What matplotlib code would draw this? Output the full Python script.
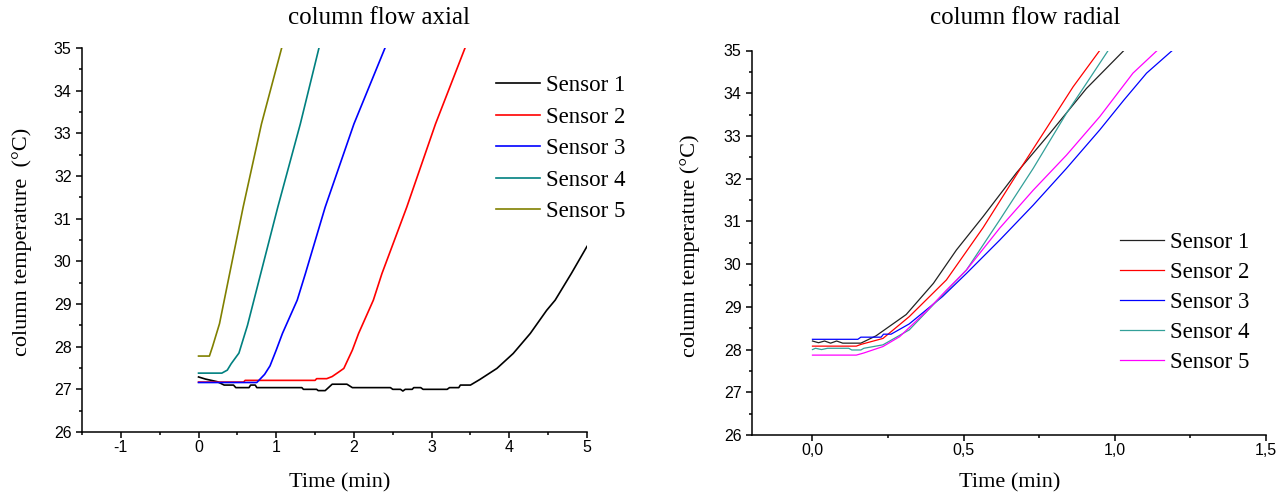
import matplotlib
matplotlib.use("Agg")
import matplotlib.pyplot as plt
from matplotlib.ticker import MultipleLocator, FuncFormatter

plt.rcParams["axes.unicode_minus"] = False

# column flow axial (left panel)
axial_t1 = [0, 0.09, 0.24, 0.33, 0.45, 0.48, 0.65, 0.67, 0.73, 0.75, 1.33, 1.35, 1.52,
            1.54, 1.63, 1.66, 1.72, 1.91, 1.98, 2.47, 2.5, 2.6, 2.63, 2.66, 2.68, 2.75,
            2.77, 2.86, 2.89, 3.2, 3.23, 3.35, 3.37, 3.5, 3.62, 3.84, 4.05, 4.27, 4.48,
            4.59, 4.8, 5.0]
axial_s1 = [27.29, 27.24, 27.18, 27.1, 27.1, 27.04, 27.04, 27.1, 27.1, 27.04, 27.04, 27.0, 27.0,
            26.97, 26.97, 27.02, 27.12, 27.12, 27.04, 27.04, 27.0, 27.0, 26.96, 27.0, 27.0, 27.0,
            27.04, 27.04, 27.0, 27.0, 27.04, 27.04, 27.1, 27.1, 27.23, 27.49, 27.84, 28.31, 28.85,
            29.09, 29.72, 30.35]

axial_t2 = [0, 0.58, 0.6, 1.5, 1.52, 1.65, 1.72, 1.8, 1.87, 1.98, 2.06, 2.25, 2.36, 2.68, 3.05, 3.43]
axial_s2 = [27.17, 27.17, 27.21, 27.21, 27.25, 27.25, 27.3, 27.4, 27.49, 27.92, 28.31, 29.09,
            29.71, 31.27, 33.22, 35.0]

axial_t3 = [0, 0.75, 0.85, 0.92, 1.0, 1.08, 1.27, 1.375, 1.63, 2.0, 2.4]
axial_s3 = [27.16, 27.16, 27.35, 27.55, 27.92, 28.31, 29.09, 29.71, 31.27, 33.22, 35.0]

axial_t4 = [0, 0.3, 0.37, 0.42, 0.52, 0.63, 0.8, 1.02, 1.31, 1.55]
axial_s4 = [27.38, 27.38, 27.45, 27.6, 27.85, 28.5, 29.71, 31.27, 33.22, 35.0]

axial_t5 = [0, 0.14, 0.18, 0.27, 0.4, 0.574, 0.81, 1.07]
axial_s5 = [27.78, 27.78, 28.0, 28.54, 29.71, 31.27, 33.22, 35.0]

# column flow radial (right panel)
radial_t1 = [0, 0.02, 0.04, 0.06, 0.08, 0.1, 0.16, 0.21, 0.31, 0.4, 0.476, 0.564, 0.674,
             0.785, 0.906, 1.03]
radial_s1 = [28.2, 28.16, 28.2, 28.15, 28.2, 28.15, 28.15, 28.32, 28.82, 29.55, 30.33, 31.11,
             32.13, 33.06, 34.11, 35.0]

radial_t2 = [0, 0.145, 0.16, 0.233, 0.32, 0.443, 0.564, 0.68, 0.774, 0.862, 0.95]
radial_s2 = [28.08, 28.08, 28.12, 28.26, 28.77, 29.63, 30.85, 32.15, 33.18, 34.15, 35.0]

radial_t3 = [0, 0.15, 0.16, 0.227, 0.235, 0.26, 0.32, 0.43, 0.509, 0.619, 0.73, 0.84, 0.95,
             1.03, 1.105, 1.19]
radial_s3 = [28.24, 28.24, 28.29, 28.29, 28.36, 28.36, 28.6, 29.24, 29.78, 30.56, 31.38, 32.24,
             33.14, 33.84, 34.47, 35.0]

radial_t4 = [0, 0.01, 0.03, 0.05, 0.12, 0.13, 0.16, 0.17, 0.233, 0.32, 0.42, 0.509, 0.619,
             0.73, 0.84, 0.906, 0.978]
radial_s4 = [28.0, 28.03, 28.0, 28.03, 28.03, 27.99, 27.99, 28.03, 28.11, 28.46, 29.2, 29.86,
             31.03, 32.24, 33.53, 34.23, 35.0]

radial_t5 = [0, 0.145, 0.17, 0.233, 0.288, 0.376, 0.443, 0.509, 0.619, 0.73, 0.84, 0.95, 1.06, 1.14]
radial_s5 = [27.87, 27.87, 27.92, 28.07, 28.3, 28.89, 29.39, 29.86, 30.84, 31.73, 32.55, 33.45,
             34.47, 35.0]

labels = ["Sensor 1", "Sensor 2", "Sensor 3", "Sensor 4", "Sensor 5"]
axial_colors = ["black", "red", "blue", "#008080", "#808000"]
radial_colors = ["#222222", "red", "blue", "#33a099", "magenta"]

serif = "Liberation Serif"
sans = "Liberation Sans"


def style_axes(ax, xlim, xmajor, xminor):
    ax.set_xlim(*xlim)
    ax.set_ylim(26, 35)
    ax.spines["top"].set_visible(False)
    ax.spines["right"].set_visible(False)
    for s in ["left", "bottom"]:
        ax.spines[s].set_linewidth(1.1)
    ax.xaxis.set_major_locator(MultipleLocator(xmajor))
    ax.xaxis.set_minor_locator(MultipleLocator(xminor))
    ax.yaxis.set_major_locator(MultipleLocator(1))
    ax.yaxis.set_minor_locator(MultipleLocator(0.5))
    ax.tick_params(which="major", direction="out", length=4.5, width=1.1, labelsize=11.5)
    ax.tick_params(axis="x", which="major", pad=1.5)
    ax.tick_params(axis="y", which="major", pad=3)
    ax.tick_params(which="minor", direction="out", length=2, width=1.1)
    for lbl in ax.get_xticklabels() + ax.get_yticklabels():
        lbl.set_fontfamily(sans)


fig = plt.figure(figsize=(12.8, 4.97), dpi=100)

# left panel
ax1 = fig.add_axes([82 / 1280, 1 - 432 / 497, 505 / 1280, 384 / 497])
axial = [(axial_t1, axial_s1), (axial_t2, axial_s2), (axial_t3, axial_s3),
         (axial_t4, axial_s4), (axial_t5, axial_s5)]
for (t, s), c, l in zip(axial, axial_colors, labels):
    ax1.plot(t, s, color=c, lw=1.2, label=l)
style_axes(ax1, (-1.5, 5), 1, 0.5)
ax1.legend(loc="upper left", bbox_to_anchor=(496 / 1280, 1 - 75 / 497),
           bbox_transform=fig.transFigure, frameon=False, borderpad=0, borderaxespad=0,
           handlelength=1.9, handletextpad=0.3, labelspacing=0.46,
           prop={"family": serif, "size": 16.5})

# right panel
ax2 = fig.add_axes([752 / 1280, 1 - 435 / 497, 514 / 1280, 384.5 / 497])
radial = [(radial_t1, radial_s1), (radial_t2, radial_s2), (radial_t3, radial_s3),
          (radial_t4, radial_s4), (radial_t5, radial_s5)]
for (t, s), c, l in zip(radial, radial_colors, labels):
    ax2.plot(t, s, color=c, lw=0.9, label=l)
style_axes(ax2, (-0.2, 1.5), 0.5, 0.25)
ax2.xaxis.set_major_formatter(FuncFormatter(lambda v, p: ("%.1f" % v).replace(".", ",")))
ax2.legend(loc="upper left", bbox_to_anchor=(1120 / 1280, 1 - 232 / 497),
           bbox_transform=fig.transFigure, frameon=False, borderpad=0, borderaxespad=0,
           handlelength=1.9, handletextpad=0.3, labelspacing=0.39,
           prop={"family": serif, "size": 16.5})

# titles and axis labels
fig.text(379 / 1280, 1 - 18 / 497, "column flow axial", family=serif, size=18,
         ha="center", va="center")
fig.text(1025 / 1280, 1 - 18 / 497, "column flow radial", family=serif, size=18,
         ha="center", va="center")
fig.text(340 / 1280, 1 - 483 / 497, "Time (min)", family=serif, size=16,
         ha="center", va="center")
fig.text(1010 / 1280, 1 - 483 / 497, "Time (min)", family=serif, size=16,
         ha="center", va="center")
fig.text(22 / 1280, 1 - 242 / 497, "column temperature  (°C)", family=serif, size=16,
         ha="center", va="center", rotation=90)
fig.text(690 / 1280, 1 - 246 / 497, "column temperature (°C)", family=serif, size=16,
         ha="center", va="center", rotation=90)

plt.savefig("out.png", dpi=100)
